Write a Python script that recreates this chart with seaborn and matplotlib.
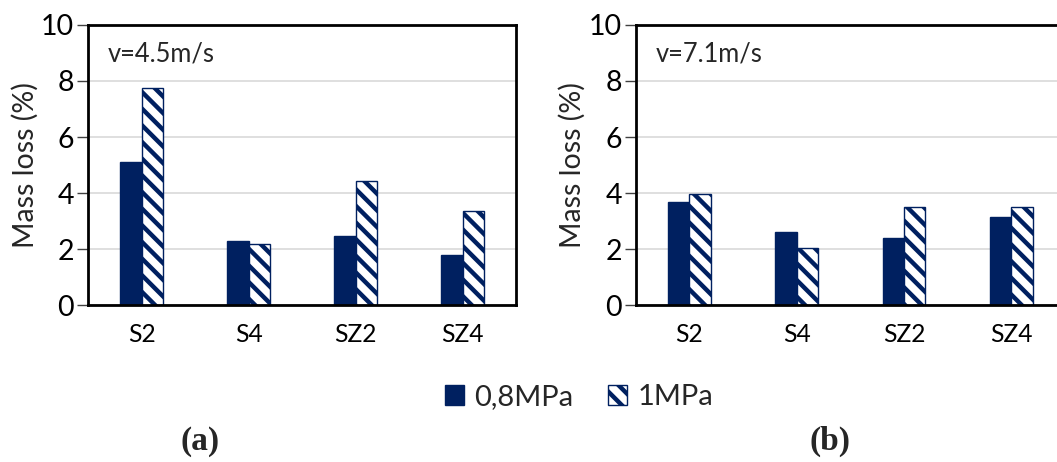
import pandas as pd
import matplotlib
import matplotlib.pyplot as plt
import seaborn as sns
from matplotlib.patches import Patch

# Data
samples = ['S2', 'S4', 'SZ2', 'SZ4']
pressures = ['0,8MPa', '1MPa']
loss_45_08 = [5.12, 2.30, 2.46, 1.77]
loss_45_10 = [7.74, 2.17, 4.43, 3.35]
loss_71_08 = [3.67, 2.61, 2.40, 3.13]
loss_71_10 = [3.96, 2.02, 3.49, 3.49]
speeds = ['v=4.5m/s', 'v=7.1m/s']
panel_labels = ['(a)', '(b)']
y_ticks = [0, 2, 4, 6, 8, 10]

NAVY = '#002060'


def long_table(low, high):
    rows = []
    for s, a, b in zip(samples, low, high):
        rows.append({'sample': s, 'pressure': pressures[0], 'loss': a})
        rows.append({'sample': s, 'pressure': pressures[1], 'loss': b})
    return pd.DataFrame(rows)


sns.set_style('white')
plt.rcParams['font.family'] = ['Lato', 'DejaVu Sans']
plt.rcParams['hatch.linewidth'] = 3.2
plt.rcParams['hatch.color'] = NAVY

fig = plt.figure(figsize=(10.57, 4.62), dpi=100)
ax_a = fig.add_axes([0.0833, 0.3398, 0.4049, 0.6061])
ax_b = fig.add_axes([0.6014, 0.3398, 0.4062, 0.6061])

tables = [long_table(loss_45_08, loss_45_10), long_table(loss_71_08, loss_71_10)]

for ax, df, speed in zip([ax_a, ax_b], tables, speeds):
    sns.barplot(data=df, x='sample', y='loss', hue='pressure', order=samples,
                hue_order=pressures, palette=[NAVY, 'white'], width=0.4,
                edgecolor=NAVY, linewidth=1.0, saturation=1, ax=ax, legend=False)
    # second series gets the diagonal stripes
    for bar in ax.containers[1]:
        bar.set_hatch('\\\\')
        bar.set_edgecolor(NAVY)

    ax.set_xlim(-0.5, 3.5)
    ax.set_ylim(0, 10)
    ax.set_yticks(y_ticks)
    ax.set_xlabel('')
    ax.set_ylabel('Mass loss (%)', fontsize=20.5, labelpad=2)
    ax.tick_params(axis='y', labelsize=20.5, length=8, width=1, color='#404040',
                   direction='out', pad=2, left=True, labelcolor='black')
    ax.tick_params(axis='x', labelsize=17.7, length=0, pad=13, labelcolor='black')
    ax.yaxis.grid(True, color='#d9d9d9', linewidth=1.2)
    ax.set_axisbelow(True)
    for sp in ax.spines.values():
        sp.set_visible(True)
        sp.set_color('black')
        sp.set_linewidth(2)
    ax.text(0.047, 0.895, speed, transform=ax.transAxes, fontsize=18.4,
            ha='left', va='center')

handles = [Patch(facecolor=NAVY, edgecolor=NAVY, label=pressures[0]),
           Patch(facecolor='white', edgecolor=NAVY, hatch='\\\\', label=pressures[1])]
fig.legend(handles=handles, loc='center', bbox_to_anchor=(0.548, 0.14), ncol=2,
           frameon=False, fontsize=21, handlelength=0.65, handleheight=0.65,
           handletextpad=0.35, columnspacing=1.2)

for x, lab in zip([0.189, 0.785], panel_labels):
    fig.text(x, 0.045, lab, ha='center', va='center', fontsize=24,
             fontweight='bold', family=['Liberation Serif', 'DejaVu Serif'])

fig.savefig('out.png', dpi=100)
